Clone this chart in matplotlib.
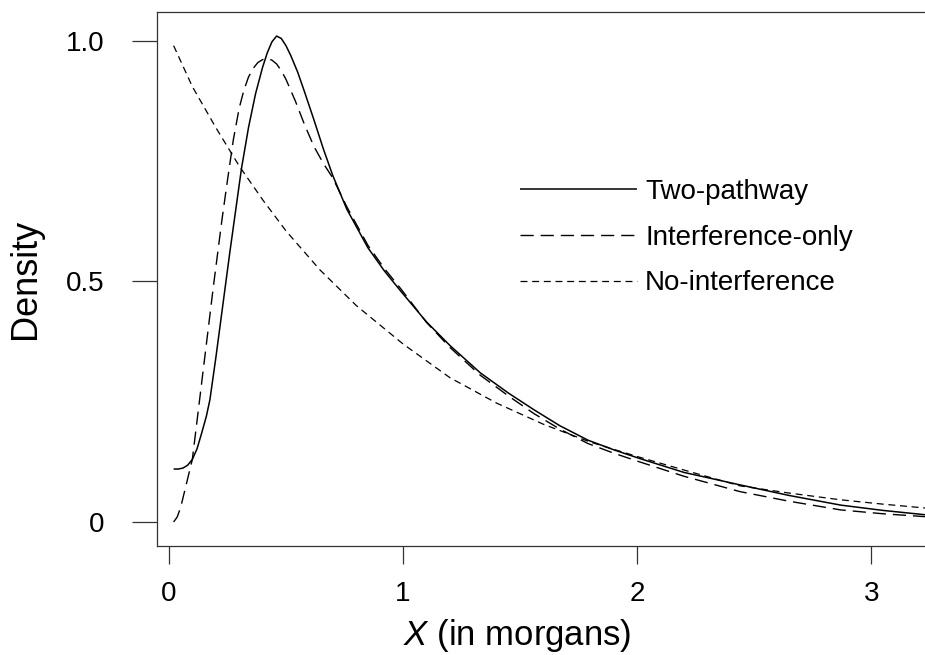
import numpy as np
import matplotlib
matplotlib.use("Agg")
import matplotlib.pyplot as plt

plt.rcParams['font.family'] = ['Liberation Sans', 'DejaVu Sans']
plt.rcParams['mathtext.fontset'] = 'custom'
plt.rcParams['mathtext.it'] = 'Liberation Sans:italic'
plt.rcParams['lines.scale_dashes'] = False

# Two-pathway model (solid)
x_two = [0.02, 0.04, 0.06, 0.08, 0.10, 0.12, 0.14, 0.16, 0.175, 0.20, 0.23, 0.26,
         0.28, 0.31, 0.34, 0.37, 0.40, 0.42, 0.44, 0.46, 0.48, 0.50, 0.52, 0.55,
         0.58, 0.62, 0.66, 0.70, 0.76, 0.85, 0.92, 0.99, 1.10, 1.20, 1.33, 1.45,
         1.56, 1.67, 1.79, 1.90, 2.01, 2.20, 2.44, 2.65, 2.87, 3.05, 3.23]
y_two = [0.11, 0.11, 0.112, 0.118, 0.13, 0.152, 0.185, 0.22, 0.254, 0.34, 0.45, 0.56,
         0.63, 0.735, 0.82, 0.89, 0.945, 0.975, 0.998, 1.01, 1.005, 0.99, 0.97, 0.935,
         0.893, 0.835, 0.775, 0.72, 0.65, 0.57, 0.522, 0.48, 0.416, 0.367, 0.31, 0.268,
         0.233, 0.2, 0.17, 0.15, 0.132, 0.103, 0.077, 0.055, 0.035, 0.024, 0.015]

# Interference-only model (long dashes)
x_int = [0.02, 0.035, 0.05, 0.07, 0.10, 0.13, 0.16, 0.19, 0.227, 0.25, 0.275, 0.30,
         0.32, 0.34, 0.36, 0.38, 0.40, 0.42, 0.44, 0.46, 0.48, 0.50, 0.54, 0.58,
         0.62, 0.66, 0.70, 0.76, 0.85, 0.92, 0.99, 1.10, 1.20, 1.33, 1.45, 1.56,
         1.67, 1.79, 1.90, 2.01, 2.20, 2.44, 2.65, 2.87, 3.05, 3.23]
y_int = [0.0, 0.01, 0.03, 0.07, 0.13, 0.25, 0.37, 0.49, 0.63, 0.71, 0.794, 0.86,
         0.897, 0.925, 0.943, 0.955, 0.961, 0.963, 0.96, 0.952, 0.938, 0.92, 0.875, 0.825,
         0.78, 0.745, 0.715, 0.655, 0.575, 0.527, 0.485, 0.415, 0.363, 0.305, 0.262, 0.225,
         0.193, 0.163, 0.143, 0.125, 0.095, 0.063, 0.043, 0.025, 0.017, 0.011]

# No-interference model (short dashes)
x_no = [0.02, 0.1, 0.2, 0.3, 0.4, 0.5, 0.645, 0.8, 1.0, 1.2, 1.4, 1.6, 1.8, 2.0,
        2.2, 2.44, 2.65, 2.87, 3.05, 3.23]
y_no = [0.99, 0.905, 0.82, 0.74, 0.67, 0.605, 0.524, 0.45, 0.37, 0.30, 0.247, 0.203,
        0.166, 0.136, 0.108, 0.075, 0.060, 0.046, 0.037, 0.029]

labels = ['Two-pathway', 'Interference-only', 'No-interference']
xticks = [0, 1, 2, 3]
yticks = [0, 0.5, 1.0]
yticklabels = ['0', '0.5', '1.0']

fig = plt.figure(figsize=(9.25, 6.55), dpi=100)
ax = fig.add_axes([157 / 925, 1 - 546 / 655, 1 - 157 / 925, (546 - 12) / 655])

l1, = ax.plot(x_two, y_two, color='black', lw=1.1, solid_capstyle='butt')
l2, = ax.plot(x_int, y_int, color='black', lw=1.0, dashes=(9.5, 5))
l3, = ax.plot(x_no, y_no, color='black', lw=0.9, dashes=(5, 3.4))

ax.set_xlim(-0.051, 3.23)
ax.set_ylim(-0.05, 1.06)
ax.set_xticks(xticks)
ax.set_xticklabels([str(t) for t in xticks])
ax.set_yticks(yticks)
ax.set_yticklabels(yticklabels)

for s in ['left', 'bottom', 'top']:
    ax.spines[s].set_linewidth(0.9)
    ax.spines[s].set_color('#333333')
ax.spines['right'].set_visible(False)

ax.tick_params(axis='x', length=13, width=0.9, pad=12, labelsize=20, color='#333333')
ax.tick_params(axis='y', length=18, width=0.9, pad=20, labelsize=20, color='#333333')

fig.text(25 / 925, 1 - 279 / 655, 'Density', rotation=90, ha='center', va='center', fontsize=26)
fig.text(517 / 925, 1 - 636 / 655, r'$X$ (in morgans)', ha='center', va='center', fontsize=25)

leg = ax.legend([l1, l2, l3], labels, loc='upper left',
                bbox_to_anchor=((520 - 157) / 768, (546 - 179) / 534),
                frameon=False, fontsize=20, handlelength=4.2, handletextpad=0.3,
                labelspacing=0.71, borderpad=0, borderaxespad=0)

fig.savefig('out.png', dpi=100)
